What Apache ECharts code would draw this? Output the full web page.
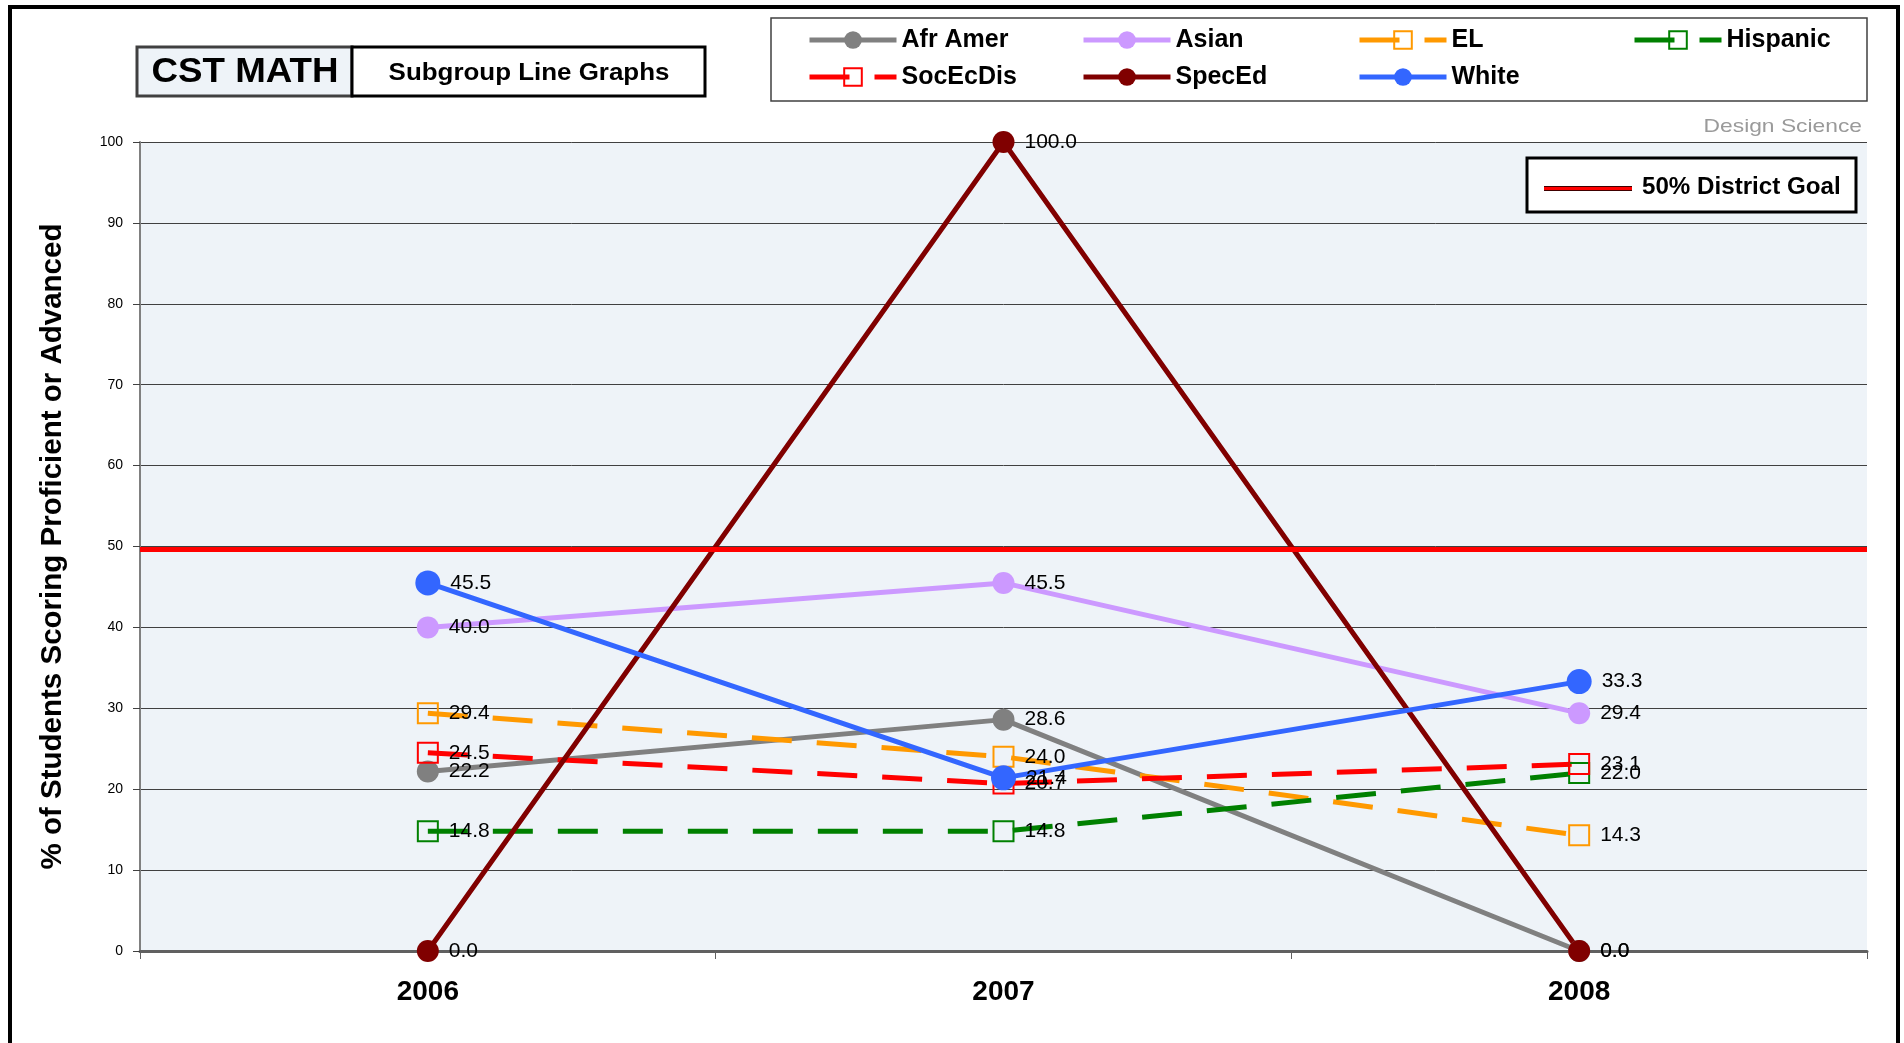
<!DOCTYPE html>
<html>
<head>
<meta charset="utf-8">
<title>CST MATH - Subgroup Line Graphs</title>
<script src="https://cdn.jsdelivr.net/npm/echarts@6/dist/echarts.min.js"></script>
<style>
  html, body { margin: 0; padding: 0; background: #fff; }
  #chart { width: 1904px; height: 1043px; }
</style>
</head>
<body>
<div id="chart"></div>
<script>
// values
const years = ['2006', '2007', '2008'];
const afrAmer = [22.2, 28.6, 0.0];
const asian = [40.0, 45.5, 29.4];
const el = [29.4, 24.0, 14.3];
const hispanic = [14.8, 14.8, 22.0];
const socEcDis = [24.5, 20.7, 23.1];
const specEd = [0.0, 100.0, 0.0];
const white = [45.5, 21.4, 33.3];
const districtGoal = 49.6;
const yTicks = [0, 10, 20, 30, 40, 50, 60, 70, 80, 90, 100];

// legend columns, as laid out in the reference (two rows)
const legendColumns = [
  ['Afr Amer', 'SocEcDis'],
  ['Asian', 'SpecEd'],
  ['EL', 'White'],
  ['Hispanic']
];
const legendColumnX = [807, 1081, 1357, 1632];

const FONT = '"Liberation Sans", Arial, sans-serif';
const PLOT_BG = '#EEF3F8';

const chart = echarts.init(document.getElementById('chart'));

function valueLabel() {
  return {
    show: true,
    position: 'right',
    distance: 10,
    color: '#000',
    fontFamily: FONT,
    fontSize: 21,
    formatter: (p) => Number(p.value).toFixed(1)
  };
}

function solidSeries(name, data, color, size) {
  return {
    name: name,
    type: 'line',
    data: data,
    symbol: 'circle',
    symbolSize: size,
    lineStyle: { color: color, width: 5 },
    itemStyle: { color: color },
    label: valueLabel()
  };
}

function dashedSeries(name, data, color) {
  return {
    name: name,
    type: 'line',
    data: data,
    symbol: 'rect',
    symbolSize: 20,
    lineStyle: { color: color, width: 5, type: [40, 25] },
    itemStyle: { color: 'rgba(0,0,0,0)', borderColor: color, borderWidth: 2 },
    label: valueLabel()
  };
}

const legends = legendColumns.map((names, i) => ({
  orient: 'vertical',
  left: legendColumnX[i],
  top: 26,
  padding: 0,
  itemGap: 9,
  itemWidth: 87,
  itemHeight: 22,
  selectedMode: false,
  data: names,
  lineStyle: { width: 5 },
  itemStyle: { borderWidth: 2 },
  textStyle: {
    fontFamily: FONT,
    fontWeight: 'bold',
    fontSize: 25,
    color: '#000',
    lineHeight: 28
  }
}));

chart.setOption({
  animation: false,
  backgroundColor: '#fff',
  textStyle: { fontFamily: FONT },
  grid: {
    left: 140,
    right: 37,
    top: 142,
    bottom: 92,
    show: true,
    backgroundColor: PLOT_BG,
    borderWidth: 0
  },
  legend: legends,
  xAxis: {
    type: 'category',
    data: years,
    boundaryGap: true,
    axisLine: { lineStyle: { color: '#606060', width: 3 } },
    axisTick: { show: true, interval: 0, length: 8, lineStyle: { color: '#606060', width: 1 } },
    axisLabel: {
      color: '#000',
      fontFamily: FONT,
      fontWeight: 'bold',
      fontSize: 28,
      margin: 27
    }
  },
  yAxis: {
    type: 'value',
    min: yTicks[0],
    max: yTicks[yTicks.length - 1],
    interval: 10,
    name: '% of Students Scoring Proficient or Advanced',
    nameLocation: 'middle',
    nameGap: 72,
    nameTextStyle: {
      color: '#000',
      fontFamily: FONT,
      fontWeight: 'bold',
      fontSize: 29.5
    },
    axisLine: { show: true, lineStyle: { color: '#808080', width: 2 } },
    axisTick: { show: true, length: 7, lineStyle: { color: '#404040', width: 1 } },
    axisLabel: {
      color: '#000',
      fontFamily: FONT,
      fontSize: 14,
      margin: 17
    },
    splitLine: { show: true, lineStyle: { color: '#404040', width: 1 } }
  },
  graphic: [
    // outer frame
    { type: 'rect', shape: { x: 10, y: 7, width: 1888, height: 1070 },
      style: { fill: 'none', stroke: '#000', lineWidth: 4 } },
    // title boxes
    { type: 'rect', shape: { x: 137, y: 47, width: 215, height: 49 },
      style: { fill: PLOT_BG, stroke: '#404040', lineWidth: 3 } },
    { type: 'rect', shape: { x: 352, y: 47, width: 353, height: 49 },
      style: { fill: '#fff', stroke: '#000', lineWidth: 3 } },
    { type: 'text', x: 245, y: 72, scaleX: 1.05,
      style: { text: 'CST MATH', fill: '#000', font: 'bold 35px ' + FONT, textAlign: 'center', textVerticalAlign: 'middle' } },
    { type: 'text', x: 529, y: 73, scaleX: 1.08,
      style: { text: 'Subgroup Line Graphs', fill: '#000', font: 'bold 24px ' + FONT, textAlign: 'center', textVerticalAlign: 'middle' } },
    // series legend frame
    { type: 'rect', z: 3, shape: { x: 771, y: 18, width: 1096, height: 83 },
      style: { fill: '#fff', stroke: '#404040', lineWidth: 1.5 } },
    { type: 'text', x: 1862, y: 127, scaleX: 1.2,
      style: { text: 'Design Science', fill: '#9a9a9a', font: '19px ' + FONT, textAlign: 'right', textVerticalAlign: 'middle' } },
    // district goal key
    { type: 'rect', z: 100, shape: { x: 1527, y: 158, width: 329, height: 54 },
      style: { fill: '#fff', stroke: '#000', lineWidth: 3 } },
    { type: 'rect', z: 101, shape: { x: 1544, y: 186, width: 88, height: 5 },
      style: { fill: '#400000' } },
    { type: 'rect', z: 102, shape: { x: 1544, y: 187, width: 88, height: 3 },
      style: { fill: '#ff0000' } },
    { type: 'text', z: 102, x: 1642, y: 188, scaleX: 1.05,
      style: { text: '50% District Goal', fill: '#000', font: 'bold 23px ' + FONT, textAlign: 'left', textVerticalAlign: 'middle' } }
  ],
  series: [
    {
      name: 'District Goal',
      type: 'line',
      data: [],
      silent: true,
      markLine: {
        silent: true,
        symbol: ['none', 'none'],
        label: { show: false },
        lineStyle: { color: '#ff0000', width: 5, type: 'solid' },
        data: [{ yAxis: districtGoal }]
      }
    },
    solidSeries('Afr Amer', afrAmer, '#808080', 22),
    solidSeries('Asian', asian, '#CC99FF', 22),
    dashedSeries('EL', el, '#FF9900'),
    dashedSeries('Hispanic', hispanic, '#008000'),
    dashedSeries('SocEcDis', socEcDis, '#FF0000'),
    solidSeries('SpecEd', specEd, '#800000', 22),
    solidSeries('White', white, '#3366FF', 25)
  ]
});

window.addEventListener('resize', () => chart.resize());
</script>
</body>
</html>
